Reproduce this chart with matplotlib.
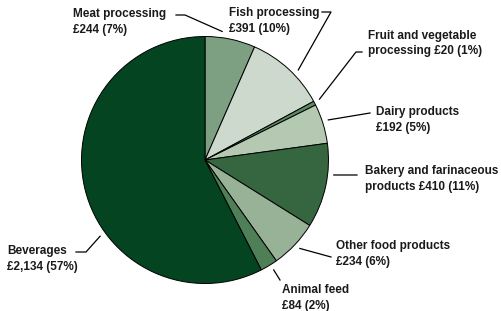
import numpy as np
import matplotlib.pyplot as plt

plt.rcParams['font.family'] = ['Liberation Sans', 'DejaVu Sans']

names = ['Meat processing\n', 'Fish processing\n', 'Fruit and vegetable\nprocessing ',
         'Dairy products\n', 'Bakery and farinaceous\nproducts ', 'Other food products\n',
         'Animal feed\n', 'Beverages\n']
values = [244, 391, 20, 192, 410, 234, 84, 2134]
pcts = [7, 10, 1, 5, 11, 6, 2, 57]
colors = ['#7d9f82', '#cdd9cc', '#5b8b62', '#b4c8b2', '#36663f', '#97b297', '#4f7f56', '#044421']

W, H = 502, 311
cx, cy, r = 205, 160, 123.5

# label layout in pixel coords (from top-left)
text_pos = [(73, 22), (229, 21), (368, 43.5), (376, 120), (365, 179), (336, 254), (282, 298), (7, 259)]
# leader: label-side point, elbow point, angle on pie (deg clockwise from top)
leaders = [((176, 15), (185, 15), 7.6),
           ((322, 12), (331, 12), 46),
           ((362, 52), (356, 52), 62),
           ((370, 113), (370, 113), 72),
           ((357, 175), (334, 175), 96.6),
           ((331, 257), (331, 257), 133),
           ((280, 280), (280, 280), 148),
           ((76, 252), (86, 252), 234)]

fig = plt.figure(figsize=(W / 100, H / 100), dpi=100)
ax = fig.add_axes([0, 0, 1, 1])

ax.pie(values, colors=colors, startangle=90, counterclock=False,
       center=(cx, H - cy), radius=r,
       wedgeprops=dict(edgecolor='black', linewidth=0.7))
ax.set_xlim(0, W)
ax.set_ylim(0, H)
ax.set_aspect('equal')
ax.axis('off')

for name, v, p, (tx, ty) in zip(names, values, pcts, text_pos):
    ax.text(tx, H - ty, f'{name}£{v:,} ({p}%)', fontsize=8.5, fontweight='bold',
            color='#1a1a1a', ha='left', va='center', linespacing=1.38)

for (p1, p2, ang) in leaders:
    a = np.deg2rad(ang)
    px = cx + 1.05 * r * np.sin(a)
    py = cy - 1.05 * r * np.cos(a)
    xs = [p1[0], p2[0], px]
    ys = [H - p1[1], H - p2[1], H - py]
    ax.plot(xs, ys, color='black', linewidth=0.9)

fig.savefig('out.png', dpi=100)
